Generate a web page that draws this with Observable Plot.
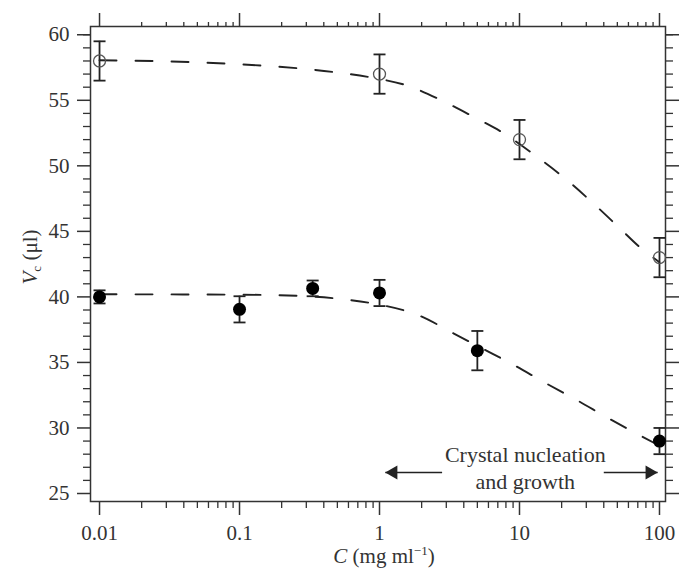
<!DOCTYPE html>
<html><head><meta charset="utf-8">
<script src="https://cdn.jsdelivr.net/npm/d3@7"></script>
<script src="https://cdn.jsdelivr.net/npm/@observablehq/plot@0.6"></script>
<style>
html,body{margin:0;padding:0;background:#fff;}
#chart svg{display:block;}
</style></head><body><div id="chart"></div>
<script>
// Open circles (upper series)
const openC = [0.01, 1, 10, 100];
const openV = [58, 57, 52, 43];
const openErr = [1.5, 1.5, 1.5, 1.5];
// Filled circles (lower series)
const filledC = [0.01, 0.1, 0.333, 1, 5, 100];
const filledV = [40, 39.05, 40.65, 40.3, 35.9, 29];
const filledErr = [0.5, 1.0, 0.6, 1.0, 1.5, 1.0];
// Dashed fitted curves
const upperFitC = [0.01, 0.03, 0.0865, 0.275, 0.5, 0.87, 1.55, 2.77, 4.67, 7.66, 12.9, 20, 32, 49.6, 75, 100];
const upperFitV = [58.05, 57.97, 57.78, 57.42, 57.12, 56.74, 56.15, 55.0, 53.75, 52.5, 50.8, 49.25, 47.35, 45.45, 43.65, 42.65];
const lowerFitC = [0.01, 0.1, 0.3, 0.59, 1.03, 1.9, 3.4, 5.35, 9.3, 15.2, 26.4, 43, 75, 100];
const lowerFitV = [40.2, 40.17, 40.05, 39.78, 39.38, 38.6, 37.2, 36.1, 34.75, 33.45, 32.05, 30.75, 29.35, 28.65];
// Tick values
const xMajor = [0.01, 0.1, 1, 10, 100];
const xMinor = [0.02,0.03,0.04,0.05,0.06,0.07,0.08,0.09, 0.2,0.3,0.4,0.5,0.6,0.7,0.8,0.9, 2,3,4,5,6,7,8,9, 20,30,40,50,60,70,80,90];
const yMajor = [25, 30, 35, 40, 45, 50, 55, 60];
const yMinor = [26,27,28,29, 31,32,33,34, 36,37,38,39, 41,42,43,44, 46,47,48,49, 51,52,53,54, 56,57,58,59, 60];
// Annotation
const annotationText = ["Crystal nucleation\nand growth"];
const annotationC = [11];
const annotationV = [27.0];
const arrowTailC = [2.8, 40];
const arrowTipC = [1.1, 97];
const arrowV = [26.6, 26.6];

const openData = openC.map((c, i) => ({c, v: openV[i], e: openErr[i]}));
const filledData = filledC.map((c, i) => ({c, v: filledV[i], e: filledErr[i]}));
const upperFit = upperFitC.map((c, i) => ({c, v: upperFitV[i]}));
const lowerFit = lowerFitC.map((c, i) => ({c, v: lowerFitV[i]}));
const arrows = arrowTailC.map((c, i) => ({tail: c, tip: arrowTipC[i], v: arrowV[i], dir: i === 0 ? -1 : 1}));
const annotation = annotationText.map((t, i) => ({t, c: annotationC[i], v: annotationV[i]}));

const capSymbol = {draw(ctx) { ctx.moveTo(-6, 0); ctx.lineTo(6, 0); }};
const ink = "#222";

const errMarks = (data) => [
  Plot.ruleX(data, {x: "c", y1: d => d.v - d.e, y2: d => d.v + d.e, stroke: ink, strokeWidth: 1.8}),
  Plot.dot(data, {x: "c", y: d => d.v + d.e, symbol: capSymbol, fill: "none", stroke: ink, strokeWidth: 1.8}),
  Plot.dot(data, {x: "c", y: d => d.v - d.e, symbol: capSymbol, fill: "none", stroke: ink, strokeWidth: 1.8})
];

const blank = () => "";

const chart = Plot.plot({
  width: 684,
  height: 570,
  marginLeft: 90,
  marginRight: 19,
  marginTop: 26,
  marginBottom: 69,
  x: {type: "log", domain: [0.00862, 110.4]},
  y: {domain: [24.39, 60.63]},
  style: {fontFamily: "'Liberation Serif', 'Times New Roman', serif", fontSize: "21px", color: "#333", background: "#fff"},
  marks: [
    // axes: bottom
    Plot.axisX({ticks: xMajor, anchor: "bottom", tickSize: 14, tickPadding: 10, tickFormat: d => String(d), label: null, strokeWidth: 1.5, fontSize: 21}),
    Plot.axisX({ticks: xMinor, anchor: "bottom", tickSize: 7, tickFormat: blank, label: null, strokeWidth: 1.3}),
    // top
    Plot.axisX({ticks: xMajor, anchor: "top", tickSize: 14, tickFormat: blank, label: null, strokeWidth: 1.5}),
    Plot.axisX({ticks: xMinor, anchor: "top", tickSize: 5, tickFormat: blank, label: null, strokeWidth: 1.3}),
    // left
    Plot.axisY({ticks: yMajor, anchor: "left", tickSize: 13, tickPadding: 8, tickFormat: d => String(d), label: null, strokeWidth: 1.5, fontSize: 21}),
    Plot.axisY({ticks: yMinor, anchor: "left", tickSize: 7, tickFormat: blank, label: null, strokeWidth: 1.3}),
    // right
    Plot.axisY({ticks: yMajor, anchor: "right", tickSize: 13, tickFormat: blank, label: null, strokeWidth: 1.5}),
    Plot.axisY({ticks: yMinor, anchor: "right", tickSize: 7, tickFormat: blank, label: null, strokeWidth: 1.3}),
    Plot.frame({stroke: "#333", strokeWidth: 1.5}),
    // fitted curves
    Plot.line(upperFit, {x: "c", y: "v", curve: "monotone-x", stroke: ink, strokeWidth: 1.9, strokeDasharray: "17,19"}),
    Plot.line(lowerFit, {x: "c", y: "v", curve: "monotone-x", stroke: ink, strokeWidth: 1.9, strokeDasharray: "17,19"}),
    // error bars
    ...errMarks(openData),
    ...errMarks(filledData),
    // points
    Plot.dot(openData, {x: "c", y: "v", r: 6, fill: "none", stroke: "#555", strokeWidth: 1.3}),
    Plot.dot(filledData, {x: "c", y: "v", r: 6.5, fill: "#000", stroke: "none"}),
    // annotation
    Plot.text(annotation, {x: "c", y: "v", text: "t", fontSize: 22, lineHeight: 1.22, fill: "#333"}),
    Plot.link(arrows, {x1: "tail", x2: "tip", y1: "v", y2: "v", stroke: ink, strokeWidth: 1.6}),
    Plot.dot(arrows.filter(d => d.dir < 0), {x: "tip", y: "v", symbol: "triangle", r: 5.2, rotate: -90, dx: 8, fill: ink, stroke: "none"}),
    Plot.dot(arrows.filter(d => d.dir > 0), {x: "tip", y: "v", symbol: "triangle", r: 5.2, rotate: 90, dx: -8, fill: ink, stroke: "none"})
  ]
});

const svg = d3.select(chart);
// enlarge tick labels
svg.selectAll('g[aria-label$="tick label"]').attr("font-size", 21).style("font-size", "21px");
svg.selectAll('g[aria-label$="tick label"] text').style("font-size", "21px");
// x-axis title: C (mg ml^-1)
const xt = svg.append("text")
  .attr("x", 384).attr("y", 563)
  .attr("text-anchor", "middle")
  .attr("fill", "#333")
  .style("font-size", "21px");
xt.append("tspan").style("font-style", "italic").text("C");
xt.append("tspan").text(" (mg ml");
xt.append("tspan").attr("dy", -8).style("font-size", "13px").text("−1");
xt.append("tspan").attr("dy", 8).text(")");
// y-axis title: V_c (μl)
const yt = svg.append("text")
  .attr("transform", "translate(37,257) rotate(-90)")
  .attr("text-anchor", "middle")
  .attr("fill", "#333")
  .style("font-size", "21px");
yt.append("tspan").style("font-style", "italic").text("V");
yt.append("tspan").attr("dy", 4).style("font-size", "13px").text("c");
yt.append("tspan").attr("dy", -4).text(" (μl)");

document.getElementById("chart").appendChild(chart);
</script>
</body></html>
